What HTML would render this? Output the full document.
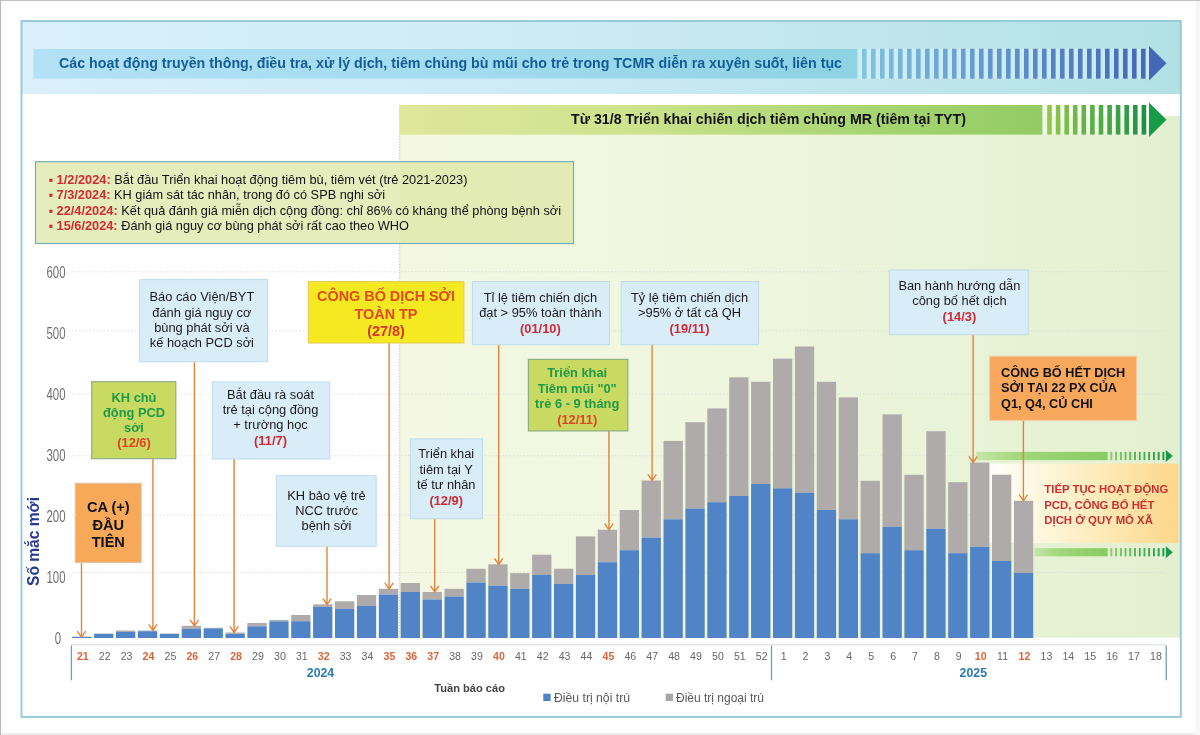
<!DOCTYPE html>
<html lang="vi"><head><meta charset="utf-8"><title>Diễn tiến dịch sởi</title>
<style>
html,body{margin:0;padding:0;background:#fff;}
body{width:1200px;height:735px;overflow:hidden;font-family:"Liberation Sans",sans-serif;}
svg{display:block}
text{font-family:"Liberation Sans",sans-serif;}
.b{font-weight:bold}
.lbl{font-size:12.85px;fill:#1a1a1a;text-anchor:middle}
.red{fill:#d22a35;font-weight:bold}
.grn{fill:#1f9a48;font-weight:bold;font-size:12.85px;text-anchor:middle}
.xl{font-size:10.6px;fill:#666;text-anchor:middle}
.xh{font-size:10.6px;fill:#d9663a;text-anchor:middle;font-weight:bold}
.yl{font-size:16.3px;fill:#707070;text-anchor:end}
</style></head><body>
<svg width="1200" height="735" viewBox="0 0 1200 735">
<defs>
<linearGradient id="gTop" x1="0" x2="1" y1="0" y2="0"><stop offset="0" stop-color="#d9f0fa"/><stop offset="0.45" stop-color="#cdebf5"/><stop offset="1" stop-color="#b2e1e4"/></linearGradient>
<linearGradient id="gBar" x1="0" x2="1" y1="0" y2="0"><stop offset="0" stop-color="#b3e1f6"/><stop offset="0.5" stop-color="#a3dcef"/><stop offset="1" stop-color="#8dd3e2"/></linearGradient>
<linearGradient id="gGreenBand" x1="0" x2="1" y1="0" y2="0"><stop offset="0" stop-color="#dee69a"/><stop offset="0.35" stop-color="#cfe38e"/><stop offset="0.7" stop-color="#aad674"/><stop offset="1" stop-color="#92cb64"/></linearGradient>
<linearGradient id="gGreenBg" x1="0" x2="1" y1="0" y2="0"><stop offset="0" stop-color="#f4f8e3"/><stop offset="0.5" stop-color="#edf5dc"/><stop offset="1" stop-color="#e3f0d0"/></linearGradient>
<linearGradient id="gYel" x1="0" x2="1" y1="0" y2="0"><stop offset="0" stop-color="#ffffff" stop-opacity="0"/><stop offset="0.04" stop-color="#ffffff" stop-opacity="1"/><stop offset="0.14" stop-color="#fffdf2"/><stop offset="0.32" stop-color="#fff6dc"/><stop offset="0.62" stop-color="#feeab6"/><stop offset="1" stop-color="#fdd68a"/></linearGradient>
<linearGradient id="gArr" x1="0" x2="1" y1="0" y2="0"><stop offset="0" stop-color="#c4e6a6"/><stop offset="0.35" stop-color="#a0d67a"/><stop offset="1" stop-color="#88cb62"/></linearGradient>
</defs>

<rect x="0" y="0" width="1200" height="735" fill="#ffffff"/>
<rect x="0" y="733" width="1200" height="2" fill="#ececec"/>
<rect x="1195.5" y="0" width="4.5" height="735" fill="#f6f6f6"/>
<rect x="0" y="0" width="1200" height="0.9" fill="#bcbcbc"/>
<rect x="0" y="0" width="1" height="735" fill="#b8b8b8"/>
<rect x="21" y="20" width="1160" height="697" fill="#ffffff"/>
<rect x="21" y="20" width="1160" height="74" fill="url(#gTop)"/>
<rect x="33.5" y="49" width="824" height="29.5" fill="url(#gBar)"/>
<rect x="857.5" y="48.5" width="292" height="30.5" fill="#ffffff" opacity="0.28"/>
<rect x="862.0" y="48.7" width="4.6" height="30" fill="#7ec6e4"/>
<rect x="871.0" y="48.7" width="4.6" height="30" fill="#7bc1e2"/>
<rect x="880.0" y="48.7" width="4.6" height="30" fill="#78bde0"/>
<rect x="889.0" y="48.7" width="4.6" height="30" fill="#76b9de"/>
<rect x="898.0" y="48.7" width="4.6" height="30" fill="#74b6dc"/>
<rect x="907.0" y="48.7" width="4.6" height="30" fill="#72b2db"/>
<rect x="916.0" y="48.7" width="4.6" height="30" fill="#70afd9"/>
<rect x="925.0" y="48.7" width="4.6" height="30" fill="#6eacd8"/>
<rect x="934.0" y="48.7" width="4.6" height="30" fill="#6ca9d6"/>
<rect x="943.0" y="48.7" width="4.6" height="30" fill="#6aa6d5"/>
<rect x="952.0" y="48.7" width="4.6" height="30" fill="#68a3d3"/>
<rect x="961.0" y="48.7" width="4.6" height="30" fill="#66a0d2"/>
<rect x="970.0" y="48.7" width="4.6" height="30" fill="#649dd0"/>
<rect x="979.0" y="48.7" width="4.6" height="30" fill="#629acf"/>
<rect x="988.0" y="48.7" width="4.6" height="30" fill="#6097ce"/>
<rect x="997.0" y="48.7" width="4.6" height="30" fill="#5f94cc"/>
<rect x="1006.0" y="48.7" width="4.6" height="30" fill="#5d92cb"/>
<rect x="1015.0" y="48.7" width="4.6" height="30" fill="#5b8fca"/>
<rect x="1024.0" y="48.7" width="4.6" height="30" fill="#598cc8"/>
<rect x="1033.0" y="48.7" width="4.6" height="30" fill="#5889c7"/>
<rect x="1042.0" y="48.7" width="4.6" height="30" fill="#5687c6"/>
<rect x="1051.0" y="48.7" width="4.6" height="30" fill="#5484c4"/>
<rect x="1060.0" y="48.7" width="4.6" height="30" fill="#5381c3"/>
<rect x="1069.0" y="48.7" width="4.6" height="30" fill="#517fc2"/>
<rect x="1078.0" y="48.7" width="4.6" height="30" fill="#4f7cc1"/>
<rect x="1087.0" y="48.7" width="4.6" height="30" fill="#4e79bf"/>
<rect x="1096.0" y="48.7" width="4.6" height="30" fill="#4c77be"/>
<rect x="1105.0" y="48.7" width="4.6" height="30" fill="#4a74bd"/>
<rect x="1114.0" y="48.7" width="4.6" height="30" fill="#4972bc"/>
<rect x="1123.0" y="48.7" width="4.6" height="30" fill="#476fba"/>
<rect x="1132.0" y="48.7" width="4.6" height="30" fill="#466db9"/>
<rect x="1141.0" y="48.7" width="4.6" height="30" fill="#446ab8"/>
<polygon points="1149,46 1166.5,63.2 1149,80.5" fill="#4468b6"/>
<text x="59" y="68.3" class="b" font-size="14px" fill="#145c98" textLength="783" lengthAdjust="spacingAndGlyphs">Các hoạt động truyền thông, điều tra, xử lý dịch, tiêm chủng bù mũi cho trẻ trong TCMR diễn ra xuyên suốt, liên tục</text>
<rect x="399.5" y="116" width="781" height="521.7" fill="url(#gGreenBg)"/>
<rect x="399.5" y="105" width="650" height="12" fill="#f4f8e3"/>
<path d="M399.7 105V161M399.7 244.2V637.5" fill="none" stroke="#b4cc94" stroke-width="1" stroke-dasharray="1.2 1.6"/>
<rect x="399.5" y="105" width="643" height="29.6" fill="url(#gGreenBand)"/>
<rect x="1042.5" y="105" width="107" height="29.6" fill="#ffffff" opacity="0.45"/>
<rect x="1047.2" y="105" width="4.6" height="29.6" fill="#90c848"/>
<rect x="1055.8" y="105" width="4.6" height="29.6" fill="#85c348"/>
<rect x="1064.4" y="105" width="4.6" height="29.6" fill="#7bbe47"/>
<rect x="1072.9" y="105" width="4.6" height="29.6" fill="#70b947"/>
<rect x="1081.5" y="105" width="4.6" height="29.6" fill="#66b447"/>
<rect x="1090.1" y="105" width="4.6" height="29.6" fill="#5baf46"/>
<rect x="1098.7" y="105" width="4.6" height="29.6" fill="#51ab46"/>
<rect x="1107.3" y="105" width="4.6" height="29.6" fill="#46a645"/>
<rect x="1115.8" y="105" width="4.6" height="29.6" fill="#3ca145"/>
<rect x="1124.4" y="105" width="4.6" height="29.6" fill="#319c45"/>
<rect x="1133.0" y="105" width="4.6" height="29.6" fill="#279744"/>
<rect x="1141.6" y="105" width="4.6" height="29.6" fill="#1c9244"/>
<polygon points="1149,102.5 1166.5,119.7 1149,137" fill="#189a48"/>
<text x="571" y="124" class="b" font-size="14.2px" fill="#111" textLength="395" lengthAdjust="spacingAndGlyphs">Từ 31/8 Triển khai chiến dịch tiêm chủng MR (tiêm tại TYT)</text>
<line x1="72" y1="271.8" x2="1165" y2="271.8" stroke="#dadada" stroke-width="1" stroke-dasharray="1.5 2" opacity="0.85"/>
<line x1="72" y1="330.8" x2="1165" y2="330.8" stroke="#dadada" stroke-width="1" stroke-dasharray="1.5 2" opacity="0.85"/>
<line x1="72" y1="394.0" x2="1165" y2="394.0" stroke="#dadada" stroke-width="1" stroke-dasharray="1.5 2" opacity="0.85"/>
<line x1="72" y1="455.8" x2="1165" y2="455.8" stroke="#dadada" stroke-width="1" stroke-dasharray="1.5 2" opacity="0.85"/>
<line x1="72" y1="515.0" x2="1165" y2="515.0" stroke="#dadada" stroke-width="1" stroke-dasharray="1.5 2" opacity="0.85"/>
<line x1="72" y1="572.5" x2="1165" y2="572.5" stroke="#dadada" stroke-width="1" stroke-dasharray="1.5 2" opacity="0.85"/>
<text class="yl" transform="translate(61.2 637.8) scale(0.70 1)" x="0" y="5.8">0</text>
<text class="yl" transform="translate(65.5 576.8) scale(0.70 1)" x="0" y="5.8">100</text>
<text class="yl" transform="translate(65.5 515.9) scale(0.70 1)" x="0" y="5.8">200</text>
<text class="yl" transform="translate(65.5 454.9) scale(0.70 1)" x="0" y="5.8">300</text>
<text class="yl" transform="translate(65.5 394.0) scale(0.70 1)" x="0" y="5.8">400</text>
<text class="yl" transform="translate(65.5 333.0) scale(0.70 1)" x="0" y="5.8">500</text>
<text class="yl" transform="translate(65.5 272.1) scale(0.70 1)" x="0" y="5.8">600</text>
<text transform="translate(38.8 586) rotate(-90)" class="b" font-size="16.2px" fill="#283a8e" textLength="89" lengthAdjust="spacingAndGlyphs">Số mắc mới</text>
<rect x="35.5" y="161.7" width="538" height="81.8" fill="#dde6a4" fill-opacity="0.72" stroke="#7babb8" stroke-width="1.2"/>
<text x="48.5" y="183.8" font-size="12.6px" fill="#111" textLength="419.0" lengthAdjust="spacingAndGlyphs"><tspan class="red" fill="#d0282e">▪ 1/2/2024:</tspan> Bắt đầu Triển khai hoạt động tiêm bù, tiêm vét (trẻ 2021-2023)</text>
<text x="48.5" y="199.3" font-size="12.6px" fill="#111" textLength="336.5" lengthAdjust="spacingAndGlyphs"><tspan class="red" fill="#d0282e">▪ 7/3/2024:</tspan> KH giám sát tác nhân, trong đó có SPB nghi sởi</text>
<text x="48.5" y="214.8" font-size="12.6px" fill="#111" textLength="512.5" lengthAdjust="spacingAndGlyphs"><tspan class="red" fill="#d0282e">▪ 22/4/2024:</tspan> Kết quả đánh giá miễn dịch cộng đồng: chỉ 86% có kháng thể phòng bệnh sởi</text>
<text x="48.5" y="230.3" font-size="12.6px" fill="#111" textLength="360.5" lengthAdjust="spacingAndGlyphs"><tspan class="red" fill="#d0282e">▪ 15/6/2024:</tspan> Đánh giá nguy cơ bùng phát sởi rất cao theo WHO</text>
<rect x="980" y="463.6" width="198.6" height="79.4" fill="url(#gYel)"/>
<rect x="976.3" y="451.9" width="131.3" height="8.2" fill="url(#gArr)"/>
<rect x="1110.4" y="451.9" width="1.9" height="8.2" fill="#84cc64"/>
<rect x="1115.1" y="451.9" width="1.9" height="8.2" fill="#7bc761"/>
<rect x="1119.9" y="451.9" width="1.9" height="8.2" fill="#72c35f"/>
<rect x="1124.6" y="451.9" width="1.9" height="8.2" fill="#69be5c"/>
<rect x="1129.3" y="451.9" width="1.9" height="8.2" fill="#60b95a"/>
<rect x="1134.1" y="451.9" width="1.9" height="8.2" fill="#57b457"/>
<rect x="1138.8" y="451.9" width="1.9" height="8.2" fill="#4fb055"/>
<rect x="1143.5" y="451.9" width="1.9" height="8.2" fill="#46ab52"/>
<rect x="1148.2" y="451.9" width="1.9" height="8.2" fill="#3da650"/>
<rect x="1153.0" y="451.9" width="1.9" height="8.2" fill="#34a14d"/>
<rect x="1157.7" y="451.9" width="1.9" height="8.2" fill="#2b9d4b"/>
<rect x="1162.4" y="451.9" width="1.9" height="8.2" fill="#229848"/>
<polygon points="1165.8,450.0 1172.8,456.0 1165.8,462.0" fill="#189a48"/>
<rect x="1034.5" y="548.1" width="73.1" height="8.2" fill="url(#gArr)"/>
<rect x="1110.4" y="548.1" width="1.9" height="8.2" fill="#84cc64"/>
<rect x="1115.1" y="548.1" width="1.9" height="8.2" fill="#7bc761"/>
<rect x="1119.9" y="548.1" width="1.9" height="8.2" fill="#72c35f"/>
<rect x="1124.6" y="548.1" width="1.9" height="8.2" fill="#69be5c"/>
<rect x="1129.3" y="548.1" width="1.9" height="8.2" fill="#60b95a"/>
<rect x="1134.1" y="548.1" width="1.9" height="8.2" fill="#57b457"/>
<rect x="1138.8" y="548.1" width="1.9" height="8.2" fill="#4fb055"/>
<rect x="1143.5" y="548.1" width="1.9" height="8.2" fill="#46ab52"/>
<rect x="1148.2" y="548.1" width="1.9" height="8.2" fill="#3da650"/>
<rect x="1153.0" y="548.1" width="1.9" height="8.2" fill="#34a14d"/>
<rect x="1157.7" y="548.1" width="1.9" height="8.2" fill="#2b9d4b"/>
<rect x="1162.4" y="548.1" width="1.9" height="8.2" fill="#229848"/>
<polygon points="1165.8,546.2 1172.8,552.2 1165.8,558.2" fill="#189a48"/>
<text x="1044.3" y="493.1" class="b" font-size="11.4px" fill="#cc3030" textLength="124.0" lengthAdjust="spacingAndGlyphs">TIẾP TỤC HOẠT ĐỘNG</text>
<text x="1044.3" y="508.6" class="b" font-size="11.4px" fill="#cc3030" textLength="110.0" lengthAdjust="spacingAndGlyphs">PCD, CÔNG BỐ HẾT</text>
<text x="1044.3" y="524.1" class="b" font-size="11.4px" fill="#cc3030" textLength="108.6" lengthAdjust="spacingAndGlyphs">DỊCH Ở QUY MÔ XÃ</text>
<rect x="72.2" y="636.6" width="19.3" height="0.4" fill="#afabab"/>
<rect x="72.2" y="637.0" width="19.3" height="1.0" fill="#5084c6"/>
<rect x="94.1" y="633.7" width="19.3" height="4.3" fill="#5084c6"/>
<rect x="116.0" y="630.5" width="19.3" height="1.5" fill="#afabab"/>
<rect x="116.0" y="632.0" width="19.3" height="6.0" fill="#5084c6"/>
<rect x="137.9" y="630.5" width="19.3" height="0.7" fill="#afabab"/>
<rect x="137.9" y="631.2" width="19.3" height="6.8" fill="#5084c6"/>
<rect x="159.8" y="633.7" width="19.3" height="4.3" fill="#5084c6"/>
<rect x="181.7" y="625.8" width="19.3" height="3.0" fill="#afabab"/>
<rect x="181.7" y="628.8" width="19.3" height="9.2" fill="#5084c6"/>
<rect x="203.6" y="627.8" width="19.3" height="0.6" fill="#afabab"/>
<rect x="203.6" y="628.4" width="19.3" height="9.6" fill="#5084c6"/>
<rect x="225.5" y="632.5" width="19.3" height="1.2" fill="#afabab"/>
<rect x="225.5" y="633.7" width="19.3" height="4.3" fill="#5084c6"/>
<rect x="247.4" y="623.0" width="19.3" height="3.3" fill="#afabab"/>
<rect x="247.4" y="626.3" width="19.3" height="11.7" fill="#5084c6"/>
<rect x="269.3" y="620.0" width="19.3" height="1.3" fill="#afabab"/>
<rect x="269.3" y="621.3" width="19.3" height="16.7" fill="#5084c6"/>
<rect x="291.2" y="615.0" width="19.3" height="6.2" fill="#afabab"/>
<rect x="291.2" y="621.2" width="19.3" height="16.8" fill="#5084c6"/>
<rect x="313.1" y="604.3" width="19.3" height="2.7" fill="#afabab"/>
<rect x="313.1" y="607.0" width="19.3" height="31.0" fill="#5084c6"/>
<rect x="335.0" y="601.3" width="19.3" height="7.5" fill="#afabab"/>
<rect x="335.0" y="608.8" width="19.3" height="29.2" fill="#5084c6"/>
<rect x="356.9" y="595.0" width="19.3" height="10.8" fill="#afabab"/>
<rect x="356.9" y="605.8" width="19.3" height="32.2" fill="#5084c6"/>
<rect x="378.8" y="588.8" width="19.3" height="5.7" fill="#afabab"/>
<rect x="378.8" y="594.5" width="19.3" height="43.5" fill="#5084c6"/>
<rect x="400.7" y="583.0" width="19.3" height="9.0" fill="#afabab"/>
<rect x="400.7" y="592.0" width="19.3" height="46.0" fill="#5084c6"/>
<rect x="422.6" y="592.0" width="19.3" height="7.5" fill="#afabab"/>
<rect x="422.6" y="599.5" width="19.3" height="38.5" fill="#5084c6"/>
<rect x="444.5" y="588.8" width="19.3" height="7.7" fill="#afabab"/>
<rect x="444.5" y="596.5" width="19.3" height="41.5" fill="#5084c6"/>
<rect x="466.4" y="568.8" width="19.3" height="13.7" fill="#afabab"/>
<rect x="466.4" y="582.5" width="19.3" height="55.5" fill="#5084c6"/>
<rect x="488.3" y="564.3" width="19.3" height="21.4" fill="#afabab"/>
<rect x="488.3" y="585.7" width="19.3" height="52.3" fill="#5084c6"/>
<rect x="510.2" y="573.2" width="19.3" height="15.6" fill="#afabab"/>
<rect x="510.2" y="588.8" width="19.3" height="49.2" fill="#5084c6"/>
<rect x="532.1" y="554.7" width="19.3" height="20.3" fill="#afabab"/>
<rect x="532.1" y="575.0" width="19.3" height="63.0" fill="#5084c6"/>
<rect x="554.0" y="568.7" width="19.3" height="15.3" fill="#afabab"/>
<rect x="554.0" y="584.0" width="19.3" height="54.0" fill="#5084c6"/>
<rect x="575.9" y="536.4" width="19.3" height="38.6" fill="#afabab"/>
<rect x="575.9" y="575.0" width="19.3" height="63.0" fill="#5084c6"/>
<rect x="597.8" y="529.8" width="19.3" height="32.4" fill="#afabab"/>
<rect x="597.8" y="562.2" width="19.3" height="75.8" fill="#5084c6"/>
<rect x="619.7" y="510.0" width="19.3" height="40.2" fill="#afabab"/>
<rect x="619.7" y="550.2" width="19.3" height="87.8" fill="#5084c6"/>
<rect x="641.6" y="480.5" width="19.3" height="57.1" fill="#afabab"/>
<rect x="641.6" y="537.6" width="19.3" height="100.4" fill="#5084c6"/>
<rect x="663.5" y="440.9" width="19.3" height="78.4" fill="#afabab"/>
<rect x="663.5" y="519.3" width="19.3" height="118.7" fill="#5084c6"/>
<rect x="685.4" y="422.2" width="19.3" height="86.3" fill="#afabab"/>
<rect x="685.4" y="508.5" width="19.3" height="129.5" fill="#5084c6"/>
<rect x="707.3" y="408.4" width="19.3" height="93.8" fill="#afabab"/>
<rect x="707.3" y="502.2" width="19.3" height="135.8" fill="#5084c6"/>
<rect x="729.2" y="377.3" width="19.3" height="118.7" fill="#afabab"/>
<rect x="729.2" y="496.0" width="19.3" height="142.0" fill="#5084c6"/>
<rect x="751.1" y="381.8" width="19.3" height="102.2" fill="#afabab"/>
<rect x="751.1" y="484.0" width="19.3" height="154.0" fill="#5084c6"/>
<rect x="773.0" y="358.7" width="19.3" height="129.6" fill="#afabab"/>
<rect x="773.0" y="488.3" width="19.3" height="149.7" fill="#5084c6"/>
<rect x="794.9" y="346.5" width="19.3" height="146.4" fill="#afabab"/>
<rect x="794.9" y="492.9" width="19.3" height="145.1" fill="#5084c6"/>
<rect x="816.8" y="381.8" width="19.3" height="128.2" fill="#afabab"/>
<rect x="816.8" y="510.0" width="19.3" height="128.0" fill="#5084c6"/>
<rect x="838.7" y="397.4" width="19.3" height="121.9" fill="#afabab"/>
<rect x="838.7" y="519.3" width="19.3" height="118.7" fill="#5084c6"/>
<rect x="860.6" y="480.8" width="19.3" height="72.4" fill="#afabab"/>
<rect x="860.6" y="553.2" width="19.3" height="84.8" fill="#5084c6"/>
<rect x="882.5" y="414.4" width="19.3" height="112.4" fill="#afabab"/>
<rect x="882.5" y="526.8" width="19.3" height="111.2" fill="#5084c6"/>
<rect x="904.4" y="474.8" width="19.3" height="75.4" fill="#afabab"/>
<rect x="904.4" y="550.2" width="19.3" height="87.8" fill="#5084c6"/>
<rect x="926.3" y="431.2" width="19.3" height="97.5" fill="#afabab"/>
<rect x="926.3" y="528.7" width="19.3" height="109.3" fill="#5084c6"/>
<rect x="948.2" y="482.2" width="19.3" height="71.0" fill="#afabab"/>
<rect x="948.2" y="553.2" width="19.3" height="84.8" fill="#5084c6"/>
<rect x="970.1" y="462.5" width="19.3" height="84.4" fill="#afabab"/>
<rect x="970.1" y="546.9" width="19.3" height="91.1" fill="#5084c6"/>
<rect x="992.0" y="474.7" width="19.3" height="86.3" fill="#afabab"/>
<rect x="992.0" y="561.0" width="19.3" height="77.0" fill="#5084c6"/>
<rect x="1013.9" y="500.8" width="19.3" height="72.2" fill="#afabab"/>
<rect x="1013.9" y="573.0" width="19.3" height="65.0" fill="#5084c6"/>
<line x1="71" y1="644.8" x2="1166.5" y2="644.8" stroke="#dcdcdc" stroke-width="1"/>
<line x1="71.4" y1="645.5" x2="71.4" y2="680.3" stroke="#6f9fb8" stroke-width="1.3"/>
<line x1="771.5" y1="645.5" x2="771.5" y2="680.3" stroke="#6f9fb8" stroke-width="1.3"/>
<line x1="1166.2" y1="645.5" x2="1166.2" y2="680.3" stroke="#6f9fb8" stroke-width="1.3"/>
<text x="82.8" y="659.6" class="xh">21</text>
<text x="104.7" y="659.6" class="xl">22</text>
<text x="126.6" y="659.6" class="xl">23</text>
<text x="148.5" y="659.6" class="xh">24</text>
<text x="170.4" y="659.6" class="xl">25</text>
<text x="192.3" y="659.6" class="xh">26</text>
<text x="214.2" y="659.6" class="xl">27</text>
<text x="236.1" y="659.6" class="xh">28</text>
<text x="258.0" y="659.6" class="xl">29</text>
<text x="279.9" y="659.6" class="xl">30</text>
<text x="301.8" y="659.6" class="xl">31</text>
<text x="323.7" y="659.6" class="xh">32</text>
<text x="345.6" y="659.6" class="xl">33</text>
<text x="367.5" y="659.6" class="xl">34</text>
<text x="389.4" y="659.6" class="xh">35</text>
<text x="411.3" y="659.6" class="xh">36</text>
<text x="433.2" y="659.6" class="xh">37</text>
<text x="455.1" y="659.6" class="xl">38</text>
<text x="477.0" y="659.6" class="xl">39</text>
<text x="498.9" y="659.6" class="xh">40</text>
<text x="520.8" y="659.6" class="xl">41</text>
<text x="542.7" y="659.6" class="xl">42</text>
<text x="564.6" y="659.6" class="xl">43</text>
<text x="586.5" y="659.6" class="xl">44</text>
<text x="608.4" y="659.6" class="xh">45</text>
<text x="630.3" y="659.6" class="xl">46</text>
<text x="652.2" y="659.6" class="xl">47</text>
<text x="674.1" y="659.6" class="xl">48</text>
<text x="696.0" y="659.6" class="xl">49</text>
<text x="717.9" y="659.6" class="xl">50</text>
<text x="739.8" y="659.6" class="xl">51</text>
<text x="761.7" y="659.6" class="xl">52</text>
<text x="783.6" y="659.6" class="xl">1</text>
<text x="805.5" y="659.6" class="xl">2</text>
<text x="827.4" y="659.6" class="xl">3</text>
<text x="849.3" y="659.6" class="xl">4</text>
<text x="871.2" y="659.6" class="xl">5</text>
<text x="893.1" y="659.6" class="xl">6</text>
<text x="915.0" y="659.6" class="xl">7</text>
<text x="936.9" y="659.6" class="xl">8</text>
<text x="958.8" y="659.6" class="xl">9</text>
<text x="980.7" y="659.6" class="xh">10</text>
<text x="1002.6" y="659.6" class="xl">11</text>
<text x="1024.5" y="659.6" class="xh">12</text>
<text x="1046.4" y="659.6" class="xl">13</text>
<text x="1068.3" y="659.6" class="xl">14</text>
<text x="1090.2" y="659.6" class="xl">15</text>
<text x="1112.1" y="659.6" class="xl">16</text>
<text x="1134.0" y="659.6" class="xl">17</text>
<text x="1155.9" y="659.6" class="xl">18</text>
<text x="320.5" y="677.3" class="b" font-size="12.3px" fill="#2a7ab0" text-anchor="middle">2024</text>
<text x="973.3" y="677.3" class="b" font-size="12.3px" fill="#2a7ab0" text-anchor="middle">2025</text>
<text x="434.3" y="692.2" class="b" font-size="11px" fill="#444" textLength="70.7" lengthAdjust="spacingAndGlyphs">Tuần báo cáo</text>
<rect x="543.3" y="693.7" width="7.3" height="7.3" fill="#4f83c4"/>
<text x="554" y="701.6" font-size="12px" fill="#595959" textLength="76" lengthAdjust="spacingAndGlyphs">Điều trị nội trú</text>
<rect x="665.7" y="693.7" width="7.3" height="7.3" fill="#aaa7a7"/>
<text x="676" y="701.6" font-size="12px" fill="#595959" textLength="88" lengthAdjust="spacingAndGlyphs">Điều trị ngoại trú</text>
<path d="M81.5 562.0 V636.8 M77.3 631.1 L81.5 637.3 L85.7 631.1" fill="none" stroke="#e0853e" stroke-width="1.4" stroke-linejoin="miter"/>
<path d="M152.9 458.0 V630.0 M148.7 624.3 L152.9 630.5 L157.1 624.3" fill="none" stroke="#e0853e" stroke-width="1.4" stroke-linejoin="miter"/>
<path d="M194.4 361.0 V625.5 M190.2 619.8 L194.4 626.0 L198.6 619.8" fill="none" stroke="#e0853e" stroke-width="1.4" stroke-linejoin="miter"/>
<path d="M234.1 459.0 V632.0 M229.9 626.3 L234.1 632.5 L238.3 626.3" fill="none" stroke="#e0853e" stroke-width="1.4" stroke-linejoin="miter"/>
<path d="M327.0 546.0 V604.0 M322.8 598.3 L327.0 604.5 L331.2 598.3" fill="none" stroke="#e0853e" stroke-width="1.4" stroke-linejoin="miter"/>
<path d="M389.1 343.0 V588.5 M384.9 582.8 L389.1 589.0 L393.3 582.8" fill="none" stroke="#e0853e" stroke-width="1.4" stroke-linejoin="miter"/>
<path d="M434.7 518.5 V591.5 M430.5 585.8 L434.7 592.0 L438.9 585.8" fill="none" stroke="#e0853e" stroke-width="1.4" stroke-linejoin="miter"/>
<path d="M498.7 344.5 V564.0 M494.5 558.3 L498.7 564.5 L502.9 558.3" fill="none" stroke="#e0853e" stroke-width="1.4" stroke-linejoin="miter"/>
<path d="M608.9 430.5 V529.3 M604.7 523.6 L608.9 529.8 L613.1 523.6" fill="none" stroke="#e0853e" stroke-width="1.4" stroke-linejoin="miter"/>
<path d="M652.1 344.5 V480.0 M647.9 474.3 L652.1 480.5 L656.3 474.3" fill="none" stroke="#e0853e" stroke-width="1.4" stroke-linejoin="miter"/>
<path d="M973.1 334.5 V462.0 M968.9 456.3 L973.1 462.5 L977.3 456.3" fill="none" stroke="#e0853e" stroke-width="1.4" stroke-linejoin="miter"/>
<path d="M1023.4 420.5 V500.3 M1019.2 494.6 L1023.4 500.8 L1027.6 494.6" fill="none" stroke="#e0853e" stroke-width="1.4" stroke-linejoin="miter"/>
<rect x="75.3" y="483.3" width="65.9" height="79.2" fill="#f8a859" stroke="#e3c3a3" stroke-width="1.2"/>
<text x="108.3" y="512.3" class="b" font-size="14.6px" fill="#111" text-anchor="middle">CA (+)</text>
<text x="108.3" y="529.5" class="b" font-size="14.6px" fill="#111" text-anchor="middle">ĐẦU</text>
<text x="108.3" y="546.7" class="b" font-size="14.6px" fill="#111" text-anchor="middle">TIÊN</text>
<rect x="91.7" y="381.7" width="84.1" height="77.0" fill="#c9da62" stroke="#8fae86" stroke-width="1.2"/>
<text x="134" y="401.5" class="grn">KH chủ</text>
<text x="134" y="416.9" class="grn">động PCD</text>
<text x="134" y="432.3" class="grn">sởi</text>
<text x="134" y="447.4" class="grn" style="fill:#df4422">(12/6)</text>
<rect x="139.6" y="279.6" width="128.1" height="82.1" fill="#d9edf9" stroke="#bcdcee" stroke-width="1"/>
<text x="201.9" y="301.1" class="lbl" >Báo cáo Viện/BYT</text>
<text x="201.9" y="316.7" class="lbl" >đánh giá nguy cơ</text>
<text x="201.9" y="332.1" class="lbl" >bùng phát sởi và</text>
<text x="201.9" y="347.1" class="lbl" >kế hoạch PCD sởi</text>
<rect x="308.4" y="281.6" width="155.4" height="61.4" fill="#f5e922" stroke="#e9cf5a" stroke-width="1.2"/>
<text x="386" y="301.2" class="b" font-size="14.4px" fill="#e04a1c" text-anchor="middle">CÔNG BỐ DỊCH SỞI</text>
<text x="386" y="318.6" class="b" font-size="14.4px" fill="#e04a1c" text-anchor="middle">TOÀN TP</text>
<text x="386" y="336.0" class="b" font-size="14.4px" fill="#d8362c" text-anchor="middle">(27/8)</text>
<rect x="212.3" y="381.9" width="117.4" height="77.1" fill="#d9edf9" stroke="#bcdcee" stroke-width="1"/>
<text x="270.5" y="398.8" class="lbl" >Bắt đầu rà soát</text>
<text x="270.5" y="414.0" class="lbl" >trẻ tại cộng đồng</text>
<text x="270.5" y="429.4" class="lbl" >+ trường học</text>
<text x="270.5" y="444.9" class="lbl red" >(11/7)</text>
<rect x="276.5" y="475.7" width="99.7" height="70.6" fill="#d9edf9" stroke="#bcdcee" stroke-width="1"/>
<text x="326.5" y="499.5" class="lbl" >KH bảo vệ trẻ</text>
<text x="326.5" y="514.9" class="lbl" >NCC trước</text>
<text x="326.5" y="530.4" class="lbl" >bệnh sởi</text>
<rect x="410.3" y="438.9" width="72.2" height="79.9" fill="#d9edf9" stroke="#bcdcee" stroke-width="1"/>
<text x="446.2" y="457.9" class="lbl" >Triển khai</text>
<text x="446.2" y="473.5" class="lbl" >tiêm tại Y</text>
<text x="446.2" y="489.1" class="lbl" >tế tư nhân</text>
<text x="446.2" y="504.9" class="lbl red" >(12/9)</text>
<rect x="472.4" y="281.5" width="137.1" height="63.2" fill="#d9edf9" stroke="#bcdcee" stroke-width="1"/>
<text x="540.4" y="301.5" class="lbl" >Tỉ lệ tiêm chiến dịch</text>
<text x="540.4" y="317.1" class="lbl" >đạt &gt; 95% toàn thành</text>
<text x="540.4" y="332.9" class="lbl red" >(01/10)</text>
<rect x="621.2" y="281.5" width="137.4" height="63.2" fill="#d9edf9" stroke="#bcdcee" stroke-width="1"/>
<text x="689.5" y="301.5" class="lbl" >Tỷ lệ tiêm chiến dịch</text>
<text x="689.5" y="317.1" class="lbl" >&gt;95% ở tất cả QH</text>
<text x="689.5" y="332.9" class="lbl red" >(19/11)</text>
<rect x="528.4" y="359.4" width="99.4" height="71.5" fill="#c9da62" stroke="#8fae86" stroke-width="1.2"/>
<text x="577.2" y="377.3" class="grn">Triển khai</text>
<text x="577.2" y="392.8" class="grn">Tiêm mũi "0"</text>
<text x="577.2" y="408.3" class="grn">trẻ 6 - 9 tháng</text>
<text x="577.2" y="423.8" class="grn" style="fill:#df4422">(12/11)</text>
<rect x="889.3" y="270.0" width="138.9" height="64.7" fill="#d9edf9" stroke="#bcdcee" stroke-width="1"/>
<text x="959.4" y="290.0" class="lbl" >Ban hành hướng dẫn</text>
<text x="959.4" y="305.1" class="lbl" >công bố hết dịch</text>
<text x="959.4" y="320.6" class="lbl red" >(14/3)</text>
<rect x="989.6" y="356.2" width="147.0" height="64.2" fill="#f8a85c" stroke="#f3cba3" stroke-width="1.2"/>
<text x="1001" y="376.7" class="b" font-size="12px" fill="#111" textLength="124.3" lengthAdjust="spacingAndGlyphs">CÔNG BỐ HẾT DỊCH</text>
<text x="1001" y="392.1" class="b" font-size="12px" fill="#111" textLength="116.0" lengthAdjust="spacingAndGlyphs">SỞI TẠI 22 PX CỦA</text>
<text x="1001" y="407.5" class="b" font-size="12px" fill="#111" textLength="91.9" lengthAdjust="spacingAndGlyphs">Q1, Q4, CỦ CHI</text>
<rect x="21.5" y="21.05" width="1159.3" height="695.85" fill="none" stroke="#96c9d8" stroke-width="1.9"/>
</svg>
</body></html>
